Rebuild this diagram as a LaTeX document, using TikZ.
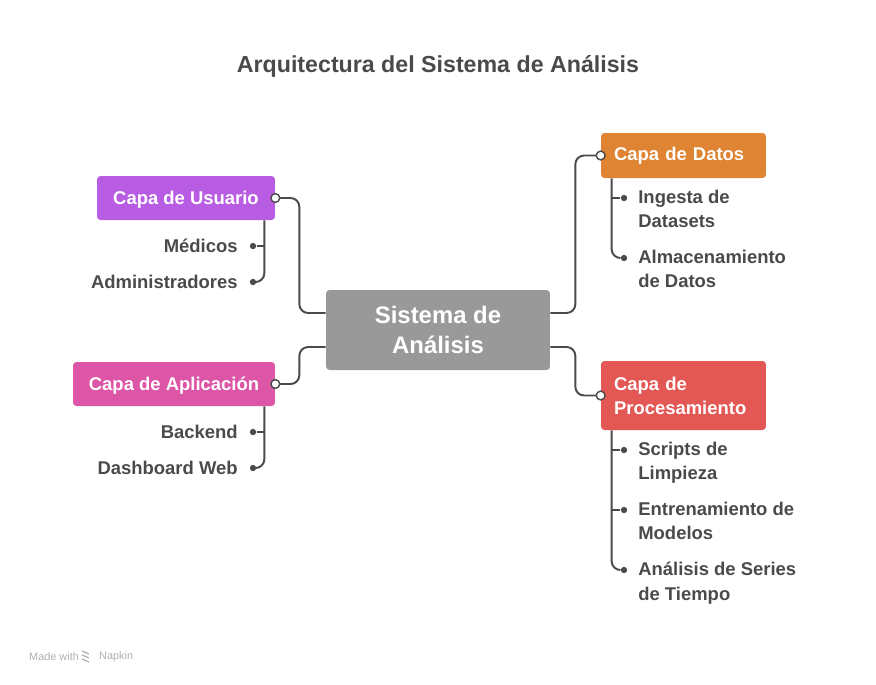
\documentclass[tikz,border=0pt]{standalone}
\usepackage{fontspec}
\setmainfont{Liberation Sans}
\usetikzlibrary{positioning,calc}
\definecolor{inkGray}{RGB}{74,74,74}
\definecolor{coreGray}{RGB}{153,153,153}
\definecolor{usuarioPurple}{RGB}{184,93,227}
\definecolor{appPink}{RGB}{220,85,166}
\definecolor{datosOrange}{RGB}{223,132,51}
\definecolor{procRed}{RGB}{227,87,84}
\definecolor{markGray}{RGB}{176,176,176}

\begin{document}
\begin{tikzpicture}[
  x=0.02cm,y=-0.02cm,
  every node/.style={font=\bfseries},
  layer/.style={rounded corners=2pt,text=white,inner sep=0pt,font=\fontsize{10.5}{13.6}\selectfont\bfseries},
  core/.style={layer,fill=coreGray,minimum width=4.48cm,minimum height=1.6cm,align=center,font=\fontsize{13.6}{17}\selectfont\bfseries},
  leaf/.style={text=inkGray,inner sep=0pt,align=left,font=\fontsize{10.5}{13.8}\selectfont\bfseries},
  link/.style={draw=inkGray,line width=1.1pt,rounded corners=5pt},
  pin/.style={circle,draw=inkGray,fill=white,line width=0.8pt,inner sep=0pt,minimum size=5pt},
  leafdot/.style={circle,fill=inkGray,inner sep=0pt,minimum size=3.6pt}
]
  \useasboundingbox (0,0) rectangle (876,684);

  \node[text=inkGray,font=\fontsize{13.2}{16}\selectfont\bfseries] (title) at (438,66) {Arquitectura del Sistema de Análisis};

  % Center and the four layers.
  \node[core] (core) at (438,330) {Sistema de\\Análisis};
  \node[layer,fill=usuarioPurple,minimum width=3.56cm,minimum height=0.88cm,text depth=0.5pt] (usuario) at (186,198) {Capa de Usuario};
  \node[layer,fill=appPink,minimum width=4.04cm,minimum height=0.88cm,text depth=0.5pt] (aplicacion) at (174,384) {Capa de Aplicación};
  \node[layer,fill=datosOrange,minimum width=3.3cm,minimum height=0.9cm,text width=2.78cm,align=left] (datos) at (683.5,155.5) {Capa de Datos};
  \node[layer,fill=procRed,minimum width=3.3cm,minimum height=1.38cm,text width=2.78cm,align=left] (proceso) at (683.5,395.5) {Capa de\\Procesamiento};

  % Branches from the center.
  \draw[link] (usuario.east) -- ++(24,0) |- ($(core.west)+(0,-17)$);
  \draw[link] (aplicacion.east) -- ++(24,0) |- ($(core.west)+(0,17)$);
  \draw[link] ($(core.east)+(0,-17)$) -- ++(25,0) |- (datos.west);
  \draw[link] ($(core.east)+(0,17)$) -- ++(25,0) |- (proceso.west);
  \foreach \b/\a in {usuario/east,aplicacion/east,datos/west,proceso/west} {
    \node[pin] (\b-pin) at (\b.\a) {};
  }

  % Left leaves.
  \foreach \name/\label/\y in {med/Médicos/246,adm/Administradores/282,back/Backend/432,dash/Dashboard Web/468} {
    \node[leaf,anchor=east] (\name) at (238,\y) {\label};
    \node[leafdot] (\name-dot) at (253,\y) {};
  }
  \coordinate (ustem) at ($(usuario.south east)+(-11,0)$);
  \coordinate (astem) at ($(aplicacion.south east)+(-11,0)$);
  \draw[link] (ustem) |- (adm-dot);
  \draw[link] (med-dot) -- (med-dot -| ustem);
  \draw[link] (astem) |- (dash-dot);
  \draw[link] (back-dot) -- (back-dot -| astem);

  % Right leaves.
  \foreach \name/\label/\y in {ing/{Ingesta de\\Datasets}/198,alm/{Almacenamiento\\de Datos}/258,scr/{Scripts de\\Limpieza}/450,ent/{Entrenamiento de\\Modelos}/510,ana/{Análisis de Series\\de Tiempo}/570} {
    \node[leaf,anchor=north west] (\name) at (638,\y-8) {\label};
    \node[leafdot] (\name-dot) at (624,\y) {};
  }
  \coordinate (dstem) at ($(datos.south west)+(11,0)$);
  \coordinate (pstem) at ($(proceso.south west)+(11,0)$);
  \draw[link] (dstem) |- (alm-dot);
  \draw[link] (ing-dot) -- (ing-dot -| dstem);
  \draw[link] (pstem) |- (ana-dot);
  \foreach \name in {scr,ent} {
    \draw[link] (\name-dot) -- (\name-dot -| pstem);
  }

  % Footer mark.
  \node[text=markGray,anchor=west,font=\fontsize{6.2}{8}\selectfont] (made) at (23,657) {Made with};
  \foreach \k in {0,1,2} {
    \draw[markGray,line width=0.7pt] (82,651+4*\k) -- (89,654+4*\k);
  }
  \node[text=markGray,anchor=west,font=\fontsize{6.2}{8}\selectfont] (napkin) at (93,657) {Napkin};
\end{tikzpicture}
\end{document}
